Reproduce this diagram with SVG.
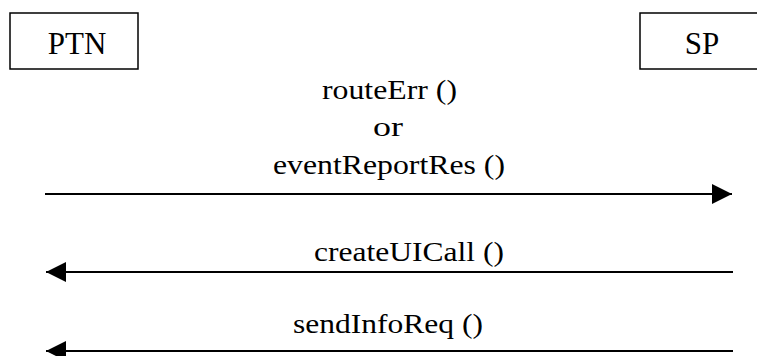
<svg xmlns="http://www.w3.org/2000/svg" width="757" height="356" viewBox="0 0 757 356">
<style>
.box{fill:#fff;stroke:#000;stroke-width:1.5}
.t{font-family:"Liberation Serif","Times New Roman",serif;fill:#000}
.nl{font-size:31px;text-anchor:middle}
.ml{font-size:28px}
.ln{stroke:#000;stroke-width:2;fill:none}
</style>
<defs>
<marker id="ah" markerWidth="20" markerHeight="20" refX="20" refY="10" orient="auto" markerUnits="userSpaceOnUse" viewBox="0 0 20 20">
<path d="M0,0 L20,10 L0,20 Z" fill="#000"/>
</marker>
</defs>
<rect width="757" height="356" fill="#fff"/>
<g id="PTN">
<rect class="box" x="10" y="13" width="128" height="56"/>
<text class="t nl" x="77" y="54">PTN</text>
</g>
<g id="SP">
<rect class="box" x="640" y="13" width="125" height="56"/>
<text class="t nl" x="702" y="54">SP</text>
</g>
<g id="connectors">
<line class="ln" x1="45" y1="194" x2="732" y2="194" marker-end="url(#ah)"/>
<line class="ln" x1="733" y1="272" x2="46" y2="272" marker-end="url(#ah)"/>
<line class="ln" x1="733" y1="351" x2="46" y2="351" marker-end="url(#ah)"/>
<text class="t ml" x="322" y="99" textLength="135" lengthAdjust="spacingAndGlyphs">routeErr ()</text>
<text class="t ml" x="373" y="136" textLength="30" lengthAdjust="spacingAndGlyphs">or</text>
<text class="t ml" x="273" y="174" textLength="232" lengthAdjust="spacingAndGlyphs">eventReportRes ()</text>
<text class="t ml" x="314" y="261" textLength="190" lengthAdjust="spacingAndGlyphs">createUICall ()</text>
<text class="t ml" x="293" y="333" textLength="190" lengthAdjust="spacingAndGlyphs">sendInfoReq ()</text>
</g>
</svg>
